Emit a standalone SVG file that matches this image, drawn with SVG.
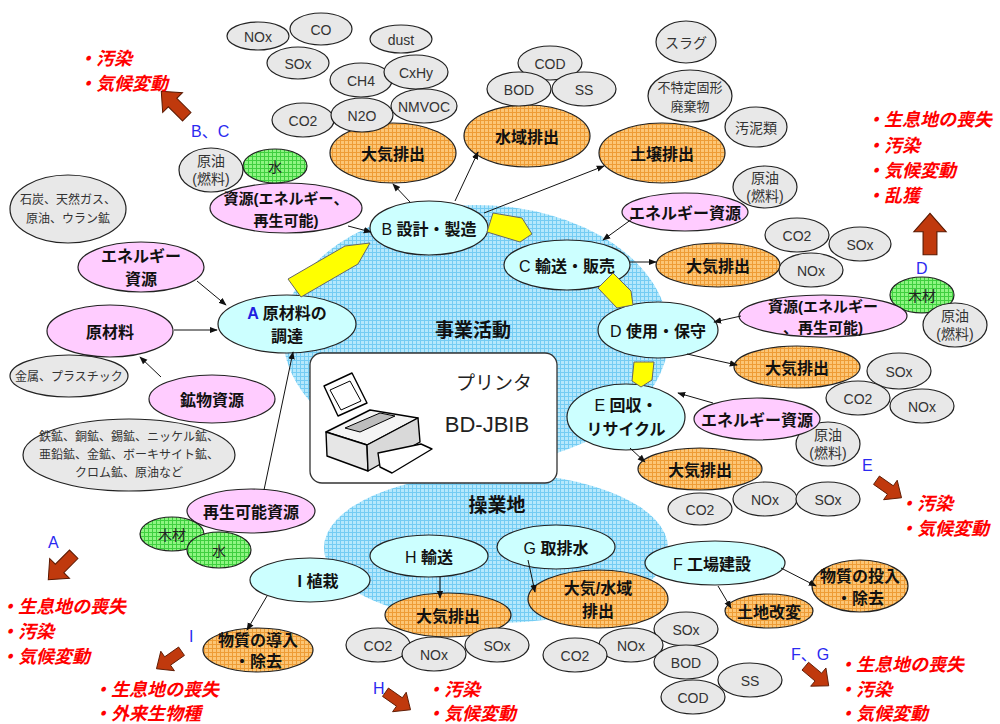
<svg xmlns="http://www.w3.org/2000/svg" width="1000" height="724" viewBox="0 0 1000 724">
<defs>
<pattern id="pBlue" width="4" height="4" patternUnits="userSpaceOnUse">
<rect width="4" height="4" fill="#b5e8fc"/>
<path d="M0 .5H4M.5 0V4" stroke="#74ccf3" stroke-width="1"/>
</pattern>
<pattern id="pOrange" width="4" height="4" patternUnits="userSpaceOnUse">
<rect width="4" height="4" fill="#fcc676"/>
<path d="M0 .5H4M.5 0V4" stroke="#ee9c36" stroke-width="1"/>
</pattern>
<pattern id="pGreen" width="4" height="4" patternUnits="userSpaceOnUse">
<rect width="4" height="4" fill="#8ef582"/>
<path d="M0 .5H4M.5 0V4" stroke="#3fcf3f" stroke-width="1"/>
</pattern>
<marker id="ah" viewBox="0 0 10 10" refX="9" refY="5" markerWidth="8" markerHeight="8" markerUnits="userSpaceOnUse" orient="auto">
<path d="M0,1 L10,5 L0,9 Z" fill="#111"/>
</marker>
<path id="blk" d="M-18,-6 L2,-6 L2,-14 L18,0 L2,14 L2,6 L-18,6 Z"/>
</defs>
<style>
text{font-family:"Liberation Sans","Noto Sans CJK JP",sans-serif}
.c{text-anchor:middle;dominant-baseline:central}
.b{font-weight:bold;font-size:16px;fill:#111}
.pb{font-weight:bold;font-size:15px;fill:#111}
.s{font-size:14px;fill:#333}
.xs{font-size:12px;fill:#333}
.n{font-weight:normal}
.gy{fill:#e8e8e8;stroke:#222;stroke-width:1.2}
.pk{fill:#ffccff;stroke:#222;stroke-width:1.2}
.cy{fill:#ccffff;stroke:#222;stroke-width:1.2}
.or{fill:url(#pOrange);stroke:#222;stroke-width:1.2}
.gr{fill:url(#pGreen);stroke:#222;stroke-width:1.2}
.red{font-size:18px;font-weight:bold;font-style:italic;fill:#ff0000}
.lb{font-size:16px;fill:#2a2af0}
.yl{fill:#ffff00;stroke:#666;stroke-width:1}
.ba{fill:#c0390d;stroke:#5a1800;stroke-width:1}
#connectors line{stroke:#111;stroke-width:1;marker-end:url(#ah)}
</style>
<rect width="1000" height="724" fill="#fff"/>

<!-- activity areas -->
<g id="areas">
<ellipse cx="476" cy="335" rx="193" ry="130" fill="url(#pBlue)"/>
<ellipse cx="496" cy="548" rx="172" ry="75" fill="url(#pBlue)"/>
</g>

<!-- product box -->
<g id="product">
<rect x="310" y="353" width="247" height="130" rx="12" fill="#fff" stroke="#333" stroke-width="1.3"/>
<g stroke="#000" stroke-width="1.4" stroke-linejoin="round">
<path d="M324,386 L352,373 L367,403 L338,416 Z" fill="#fff"/>
<path d="M330,390 L350,381 L361,401 L341,410 Z" fill="#fff" stroke-width="1"/>
<path d="M326,432 L370,410 L418,418 L367,445 Z" fill="#f4f4f4"/>
<path d="M345,428 L380,413 L395,416 L360,432 Z" fill="#bdbdbd" stroke-width="1"/>
<path d="M326,432 L367,445 L368,471 L327,456 Z" fill="#e6e6e6"/>
<path d="M367,445 L418,418 L420,442 L368,471 Z" fill="#d9d9d9"/>
<path d="M378,453 L421,444 L432,449 L392,473 L380,467 Z" fill="#fff"/>
</g>
<text x="494" y="390" text-anchor="middle" font-size="19" fill="#222">プリンタ</text>
<text x="487" y="432" text-anchor="middle" font-size="22" fill="#222">BD-JBIB</text>
</g>

<text class="c b" x="473" y="330" style="font-size:19px">事業活動</text>
<text class="c b" x="497" y="505" style="font-size:19px">操業地</text>

<!-- emission nodes -->
<g id="o-air-b"><ellipse class="or" cx="393" cy="153" rx="63" ry="30"/><text class="c b" x="393" y="154">大気排出</text></g>
<g id="o-water-b"><ellipse class="or" cx="527" cy="136" rx="63" ry="31"/><text class="c b" x="527" y="137">水域排出</text></g>
<g id="o-soil-b"><ellipse class="or" cx="662" cy="153" rx="63" ry="30"/><text class="c b" x="662" y="154">土壌排出</text></g>
<g id="o-air-c"><ellipse class="or" cx="718" cy="265" rx="62" ry="22"/><text class="c b" x="718" y="266">大気排出</text></g>
<g id="o-air-d"><ellipse class="or" cx="797" cy="367" rx="63" ry="21"/><text class="c b" x="797" y="368">大気排出</text></g>
<g id="o-air-e"><ellipse class="or" cx="700" cy="469" rx="62" ry="21"/><text class="c b" x="700" y="470">大気排出</text></g>
<g id="o-air-h"><ellipse class="or" cx="448" cy="615" rx="63" ry="22"/><text class="c b" x="448" y="616">大気排出</text></g>
<g id="o-airwater-g"><ellipse class="or" cx="598" cy="599" rx="70" ry="29"/><text class="c b" x="598" y="588">大気/水域</text><text class="c b" x="598" y="611">排出</text></g>
<g id="o-material-f"><ellipse class="or" cx="860" cy="586" rx="48" ry="26"/><text class="c b" x="860" y="576">物質の投入</text><text class="c b" x="860" y="598">・除去</text></g>
<g id="o-land-f"><ellipse class="or" cx="769" cy="611" rx="44" ry="17"/><text class="c b" x="769" y="612">土地改変</text></g>
<g id="o-material-i"><ellipse class="or" cx="258" cy="650" rx="55" ry="22"/><text class="c b" x="258" y="640">物質の導入</text><text class="c b" x="258" y="661">・除去</text></g>

<!-- gas and effluent details -->
<g id="g-nox1"><ellipse class="gy" cx="258" cy="36" rx="31" ry="14"/><text class="c s" x="258" y="37">NOx</text></g>
<g id="g-co1"><ellipse class="gy" cx="321" cy="29" rx="31" ry="16"/><text class="c s" x="321" y="30">CO</text></g>
<g id="g-sox1"><ellipse class="gy" cx="298" cy="63" rx="31" ry="16"/><text class="c s" x="298" y="64">SOx</text></g>
<g id="g-dust"><ellipse class="gy" cx="401" cy="39" rx="31" ry="14"/><text class="c s" x="401" y="40">dust</text></g>
<g id="g-ch4"><ellipse class="gy" cx="361" cy="80" rx="31" ry="17"/><text class="c s" x="361" y="81">CH4</text></g>
<g id="g-cxhy"><ellipse class="gy" cx="416" cy="72" rx="32" ry="17"/><text class="c s" x="416" y="73">CxHy</text></g>
<g id="g-co2-1"><ellipse class="gy" cx="303" cy="120" rx="31" ry="17"/><text class="c s" x="303" y="121">CO2</text></g>
<g id="g-n2o"><ellipse class="gy" cx="362" cy="115" rx="31" ry="17"/><text class="c s" x="362" y="116">N2O</text></g>
<g id="g-nmvoc"><ellipse class="gy" cx="424" cy="106" rx="33" ry="17"/><text class="c s" x="424" y="107">NMVOC</text></g>
<g id="g-cod1"><ellipse class="gy" cx="550" cy="63" rx="32" ry="17"/><text class="c s" x="550" y="64">COD</text></g>
<g id="g-bod1"><ellipse class="gy" cx="519" cy="89" rx="32" ry="17"/><text class="c s" x="519" y="90">BOD</text></g>
<g id="g-ss1"><ellipse class="gy" cx="584" cy="89" rx="32" ry="17"/><text class="c s" x="584" y="90">SS</text></g>
<g id="g-slag"><ellipse class="gy" cx="686" cy="42" rx="30" ry="21"/><text class="c s" x="686" y="43">スラグ</text></g>
<g id="g-waste"><ellipse class="gy" cx="690" cy="96" rx="42" ry="26"/><text class="c" x="690" y="87" style="font-size:13px;fill:#333">不特定固形</text><text class="c" x="690" y="106" style="font-size:13px;fill:#333">廃棄物</text></g>
<g id="g-sludge"><ellipse class="gy" cx="756" cy="127" rx="31" ry="20"/><text class="c s" x="756" y="128">汚泥類</text></g>
<g id="g-oil-c"><ellipse class="gy" cx="765" cy="187" rx="32" ry="21"/><text class="c s" x="765" y="178">原油</text><text class="c s" x="765" y="196">(燃料)</text></g>
<g id="g-co2-c"><ellipse class="gy" cx="797" cy="235" rx="32" ry="17"/><text class="c s" x="797" y="236">CO2</text></g>
<g id="g-sox-c"><ellipse class="gy" cx="860" cy="244" rx="31" ry="17"/><text class="c s" x="860" y="245">SOx</text></g>
<g id="g-nox-c"><ellipse class="gy" cx="811" cy="270" rx="32" ry="17"/><text class="c s" x="811" y="271">NOx</text></g>
<g id="g-sox-d"><ellipse class="gy" cx="899" cy="371" rx="32" ry="18"/><text class="c s" x="899" y="372">SOx</text></g>
<g id="g-co2-d"><ellipse class="gy" cx="858" cy="398" rx="32" ry="17"/><text class="c s" x="858" y="399">CO2</text></g>
<g id="g-nox-d"><ellipse class="gy" cx="922" cy="406" rx="32" ry="17"/><text class="c s" x="922" y="407">NOx</text></g>
<g id="g-oil-e"><ellipse class="gy" cx="828" cy="444" rx="32" ry="22"/><text class="c s" x="828" y="435">原油</text><text class="c s" x="828" y="453">(燃料)</text></g>
<g id="g-co2-e"><ellipse class="gy" cx="700" cy="509" rx="32" ry="16"/><text class="c s" x="700" y="510">CO2</text></g>
<g id="g-nox-e"><ellipse class="gy" cx="765" cy="499" rx="32" ry="17"/><text class="c s" x="765" y="500">NOx</text></g>
<g id="g-sox-e"><ellipse class="gy" cx="828" cy="499" rx="32" ry="17"/><text class="c s" x="828" y="500">SOx</text></g>
<g id="g-sox-g"><ellipse class="gy" cx="686" cy="629" rx="32" ry="17"/><text class="c s" x="686" y="630">SOx</text></g>
<g id="g-nox-g"><ellipse class="gy" cx="631" cy="645" rx="32" ry="17"/><text class="c s" x="631" y="646">NOx</text></g>
<g id="g-co2-g"><ellipse class="gy" cx="575" cy="655" rx="32" ry="17"/><text class="c s" x="575" y="656">CO2</text></g>
<g id="g-bod-g"><ellipse class="gy" cx="686" cy="662" rx="32" ry="17"/><text class="c s" x="686" y="663">BOD</text></g>
<g id="g-ss-g"><ellipse class="gy" cx="750" cy="680" rx="32" ry="17"/><text class="c s" x="750" y="681">SS</text></g>
<g id="g-cod-g"><ellipse class="gy" cx="693" cy="697" rx="32" ry="17"/><text class="c s" x="693" y="698">COD</text></g>
<g id="g-co2-h"><ellipse class="gy" cx="378" cy="645" rx="32" ry="17"/><text class="c s" x="378" y="646">CO2</text></g>
<g id="g-nox-h"><ellipse class="gy" cx="434" cy="654" rx="32" ry="17"/><text class="c s" x="434" y="655">NOx</text></g>
<g id="g-sox-h"><ellipse class="gy" cx="497" cy="645" rx="32" ry="17"/><text class="c s" x="497" y="646">SOx</text></g>
<g id="g-fuels"><ellipse class="gy" cx="68" cy="209" rx="58" ry="34"/><text class="c xs" x="68" y="200">石炭、天然ガス、</text><text class="c xs" x="68" y="219">原油、ウラン鉱</text></g>
<g id="g-metal"><ellipse class="gy" cx="69" cy="376" rx="59" ry="21"/><text class="c xs" x="69" y="377">金属、プラスチック</text></g>
<g id="g-ores"><ellipse class="gy" cx="129" cy="455" rx="106" ry="36"/><text class="c xs" x="129" y="437">鉄鉱、銅鉱、錫鉱、ニッケル鉱、</text><text class="c xs" x="129" y="455">亜鉛鉱、金鉱、ボーキサイト鉱、</text><text class="c xs" x="129" y="473">クロム鉱、原油など</text></g>

<!-- resource nodes -->
<g id="p-res-b"><ellipse class="pk" cx="286" cy="208" rx="76" ry="25"/><text class="c pb" x="286" y="198">資源(エネルギー、</text><text class="c pb" x="286" y="220">再生可能)</text></g>
<g id="g-oil-b"><ellipse class="gy" cx="211" cy="170" rx="32" ry="22"/><text class="c s" x="211" y="161">原油</text><text class="c s" x="211" y="179">(燃料)</text></g>
<g id="gr-water-b"><ellipse class="gr" cx="275" cy="166" rx="32" ry="17"/><text class="c s" x="275" y="167" style="fill:#222">水</text></g>
<g id="p-energy-a"><ellipse class="pk" cx="141" cy="267" rx="63" ry="25"/><text class="c b" x="141" y="256">エネルギー</text><text class="c b" x="141" y="279">資源</text></g>
<g id="p-raw"><ellipse class="pk" cx="110" cy="331" rx="63" ry="26"/><text class="c b" x="110" y="332">原材料</text></g>
<g id="p-mineral"><ellipse class="pk" cx="212" cy="399" rx="63" ry="24"/><text class="c b" x="212" y="400">鉱物資源</text></g>
<g id="p-renew"><ellipse class="pk" cx="251" cy="511" rx="64" ry="22"/><text class="c b" x="251" y="512">再生可能資源</text></g>
<g id="gr-wood-a"><ellipse class="gr" cx="172" cy="534" rx="32" ry="17"/><text class="c s" x="172" y="535" style="fill:#222">木材</text></g>
<g id="gr-water-a"><ellipse class="gr" cx="219" cy="550" rx="32" ry="18"/><text class="c s" x="219" y="551" style="fill:#222">水</text></g>
<g id="p-energy-c"><ellipse class="pk" cx="685" cy="212" rx="63" ry="19"/><text class="c b" x="685" y="213">エネルギー資源</text></g>
<g id="gr-wood-d"><ellipse class="gr" cx="922" cy="295" rx="32" ry="18"/><text class="c s" x="922" y="296" style="fill:#222">木材</text></g>
<g id="g-oil-d"><ellipse class="gy" cx="955" cy="325" rx="32" ry="22"/><text class="c s" x="955" y="316">原油</text><text class="c s" x="955" y="334">(燃料)</text></g>
<g id="p-res-d"><ellipse class="pk" cx="823" cy="316" rx="84" ry="21"/><text class="c pb" x="823" y="306">資源(エネルギー</text><text class="c pb" x="823" y="327">、再生可能)</text></g>
<g id="p-energy-e"><ellipse class="pk" cx="757" cy="419" rx="63" ry="21"/><text class="c b" x="757" y="420">エネルギー資源</text></g>

<!-- life-cycle stages -->
<g id="sA"><ellipse class="cy" cx="287" cy="324" rx="69" ry="29"/><text class="c b" x="287" y="313"><tspan fill="#2020e0">A</tspan> 原材料の</text><text class="c b" x="287" y="336">調達</text></g>
<g id="sB"><ellipse class="cy" cx="429" cy="228" rx="59" ry="27"/><text class="c b" x="429" y="229"><tspan class="n">B</tspan> 設計・製造</text></g>
<g id="sC"><ellipse class="cy" cx="567" cy="265" rx="63" ry="25"/><text class="c b" x="567" y="266"><tspan class="n">C</tspan> 輸送・販売</text></g>
<g id="sD"><ellipse class="cy" cx="658" cy="330" rx="60" ry="28"/><text class="c b" x="658" y="331"><tspan class="n">D</tspan> 使用・保守</text></g>
<g id="sE"><ellipse class="cy" cx="626" cy="417" rx="59" ry="33"/><text class="c b" x="626" y="405"><tspan class="n">E</tspan> 回収・</text><text class="c b" x="626" y="429">リサイクル</text></g>
<g id="sF"><ellipse class="cy" cx="715" cy="563" rx="70" ry="22"/><text class="c b" x="712" y="564"><tspan class="n">F</tspan> 工場建設</text></g>
<g id="sG"><ellipse class="cy" cx="556" cy="547" rx="59" ry="22"/><text class="c b" x="556" y="548"><tspan class="n">G</tspan> 取排水</text></g>
<g id="sH"><ellipse class="cy" cx="429" cy="556" rx="59" ry="21"/><text class="c b" x="429" y="557"><tspan class="n">H</tspan> 輸送</text></g>
<g id="sI"><ellipse class="cy" cx="310" cy="580" rx="60" ry="22"/><text class="c b" x="318" y="581">I 植栽</text></g>

<!-- stage-to-stage flow arrows -->
<g id="flow">
<polygon class="yl" points="288,279 345,246 370,243 358,264 301,297"/>
<polygon class="yl" points="493,213 522,218 532,234 520,242 487,232"/>
<polygon class="yl" points="598,288 613,273 631,291 633,305 617,308"/>
<polygon class="yl" points="634,362 654,362 652,380 641,387 632,381"/>
</g>

<!-- connectors -->
<g id="connectors">
<line x1="197" y1="281" x2="226" y2="305"/>
<line x1="174" y1="330" x2="217" y2="330"/>
<line x1="161" y1="377" x2="140" y2="357"/>
<line x1="264" y1="490" x2="293" y2="352"/>
<line x1="348" y1="226" x2="371" y2="232"/>
<line x1="410" y1="202" x2="393" y2="184"/>
<line x1="455" y1="201" x2="478" y2="152"/>
<line x1="484" y1="213" x2="604" y2="166"/>
<line x1="632" y1="219" x2="603" y2="240"/>
<line x1="630" y1="262" x2="656" y2="262"/>
<line x1="741" y1="316" x2="714" y2="322"/>
<line x1="687" y1="354" x2="737" y2="365"/>
<line x1="713" y1="403" x2="678" y2="393"/>
<line x1="630" y1="448" x2="645" y2="462"/>
<line x1="440" y1="577" x2="440" y2="598"/>
<line x1="528" y1="560" x2="535" y2="592"/>
<line x1="718" y1="586" x2="731" y2="608"/>
<line x1="781" y1="568" x2="816" y2="586"/>
<line x1="267" y1="596" x2="247" y2="630"/>
</g>

<!-- environmental impacts -->
<g id="impacts">
<use href="#blk" class="ba" transform="translate(174,104) rotate(-135)"/>
<use href="#blk" class="ba" transform="translate(930,234) rotate(-90) scale(1.15)"/>
<use href="#blk" class="ba" transform="translate(889,489) rotate(35) scale(0.85)"/>
<use href="#blk" class="ba" transform="translate(61,567) rotate(135)"/>
<use href="#blk" class="ba" transform="translate(169,660) rotate(145) scale(0.85)"/>
<use href="#blk" class="ba" transform="translate(398,701) rotate(35) scale(0.85)"/>
<use href="#blk" class="ba" transform="translate(817,676) rotate(40) scale(0.85)"/>

<text class="lb" x="191" y="137">B、C</text>
<text class="lb" x="916" y="274">D</text>
<text class="lb" x="862" y="471">E</text>
<text class="lb" x="48" y="548">A</text>
<text class="lb" x="189" y="642">I</text>
<text class="lb" x="373" y="694">H</text>
<text class="lb" x="791" y="660">F、G</text>

<text class="red" x="78" y="65">・汚染</text>
<text class="red" x="78" y="90">・気候変動</text>
<text class="red" x="866" y="126">・生息地の喪失</text>
<text class="red" x="866" y="152">・汚染</text>
<text class="red" x="866" y="177">・気候変動</text>
<text class="red" x="866" y="202">・乱獲</text>
<text class="red" x="899" y="510">・汚染</text>
<text class="red" x="899" y="535">・気候変動</text>
<text class="red" x="838" y="671">・生息地の喪失</text>
<text class="red" x="838" y="696">・汚染</text>
<text class="red" x="838" y="720">・気候変動</text>
<text class="red" x="426" y="696">・汚染</text>
<text class="red" x="426" y="720">・気候変動</text>
<text class="red" x="93" y="696">・生息地の喪失</text>
<text class="red" x="93" y="720">・外来生物種</text>
<text class="red" x="0" y="613">・生息地の喪失</text>
<text class="red" x="0" y="638">・汚染</text>
<text class="red" x="0" y="663">・気候変動</text>
</g>
</svg>
